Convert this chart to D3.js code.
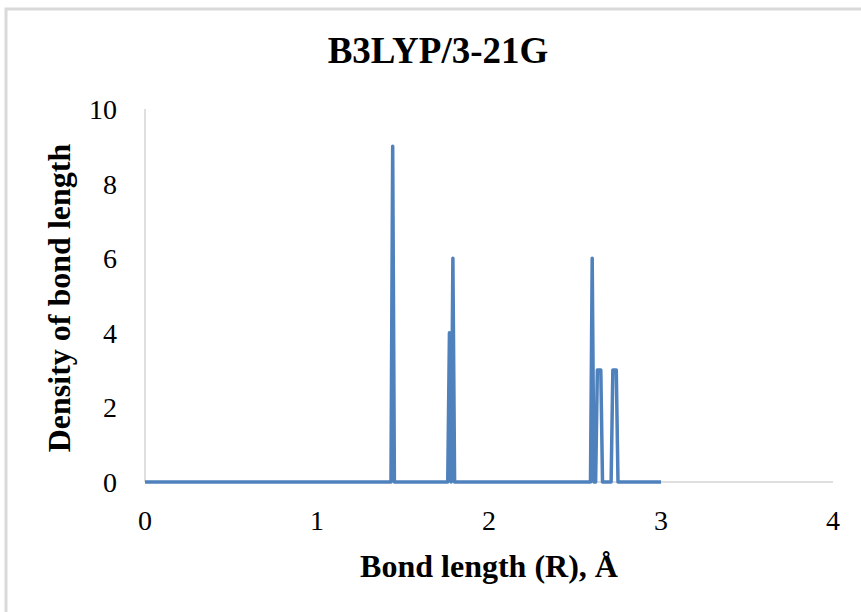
<!DOCTYPE html>
<html>
<head>
<meta charset="utf-8">
<script src="https://cdn.jsdelivr.net/npm/d3@7/dist/d3.min.js"></script>
<style>
  html, body { margin: 0; padding: 0; background: #fff; }
  svg text { font-family: "Liberation Serif", "Times New Roman", serif; fill: #000; }
</style>
</head>
<body>
<div id="chart"></div>
<script>
// values
var bondLength = [0, 1.43, 1.44, 1.45, 1.76, 1.77, 1.78, 1.79, 1.80,
  2.59, 2.60, 2.61, 2.62, 2.63, 2.64, 2.65, 2.66, 2.71, 2.72, 2.73, 2.74, 2.75, 3.00];
var density = [0, 0, 9, 0, 0, 4, 0, 6, 0,
  0, 6, 0, 0, 3, 3, 3, 0, 0, 3, 3, 3, 0, 0];
var xTicks = [0, 1, 2, 3, 4];
var yTicks = [0, 2, 4, 6, 8, 10];

var title = "B3LYP/3-21G";
var xTitle = "Bond length (R), Å";
var yTitle = "Density of bond length";

var width = 861, height = 612;

var svg = d3.select("#chart").append("svg")
  .attr("width", width)
  .attr("height", height);

// chart area frame (only top/left edges show in the picture)
svg.append("rect")
  .attr("x", 6)
  .attr("y", 9)
  .attr("width", 900)
  .attr("height", 700)
  .attr("fill", "#fff")
  .attr("stroke", "#d9d9d9")
  .attr("stroke-width", 3);

var x = d3.scaleLinear().domain([0, 4]).range([145, 833]);
var y = d3.scaleLinear().domain([0, 10]).range([482, 109]);

// axis lines
svg.append("line")
  .attr("x1", x(0)).attr("x2", x(0))
  .attr("y1", y(0)).attr("y2", y(10))
  .attr("stroke", "#bfbfbf").attr("stroke-width", 1);
svg.append("line")
  .attr("x1", x(0)).attr("x2", x(4))
  .attr("y1", y(0)).attr("y2", y(0))
  .attr("stroke", "#bfbfbf").attr("stroke-width", 1);

// tick labels
svg.selectAll("text.ytick")
  .data(yTicks)
  .enter().append("text")
  .attr("class", "ytick")
  .attr("x", 117)
  .attr("y", function (d) { return y(d) + 10; })
  .attr("text-anchor", "end")
  .style("font-size", "28px")
  .text(function (d) { return d; });

svg.selectAll("text.xtick")
  .data(xTicks)
  .enter().append("text")
  .attr("class", "xtick")
  .attr("x", function (d) { return x(d); })
  .attr("y", 530)
  .attr("text-anchor", "middle")
  .style("font-size", "28px")
  .text(function (d) { return d; });

// series
var line = d3.line()
  .x(function (d) { return x(d[0]); })
  .y(function (d) { return y(d[1]); });

svg.append("path")
  .datum(d3.zip(bondLength, density))
  .attr("d", line)
  .attr("fill", "none")
  .attr("stroke", "#4f81bd")
  .attr("stroke-width", 3.5)
  .attr("stroke-linejoin", "round");

// titles
svg.append("text")
  .attr("x", 438)
  .attr("y", 63)
  .attr("text-anchor", "middle")
  .style("font-size", "37px")
  .style("font-weight", "bold")
  .text(title);

svg.append("text")
  .attr("x", x(2))
  .attr("y", 577)
  .attr("text-anchor", "middle")
  .style("font-size", "32px")
  .style("font-weight", "bold")
  .text(xTitle);

svg.append("text")
  .attr("transform", "translate(70,298) rotate(-90)")
  .attr("text-anchor", "middle")
  .style("font-size", "32px")
  .style("font-weight", "bold")
  .text(yTitle);
</script>
</body>
</html>
